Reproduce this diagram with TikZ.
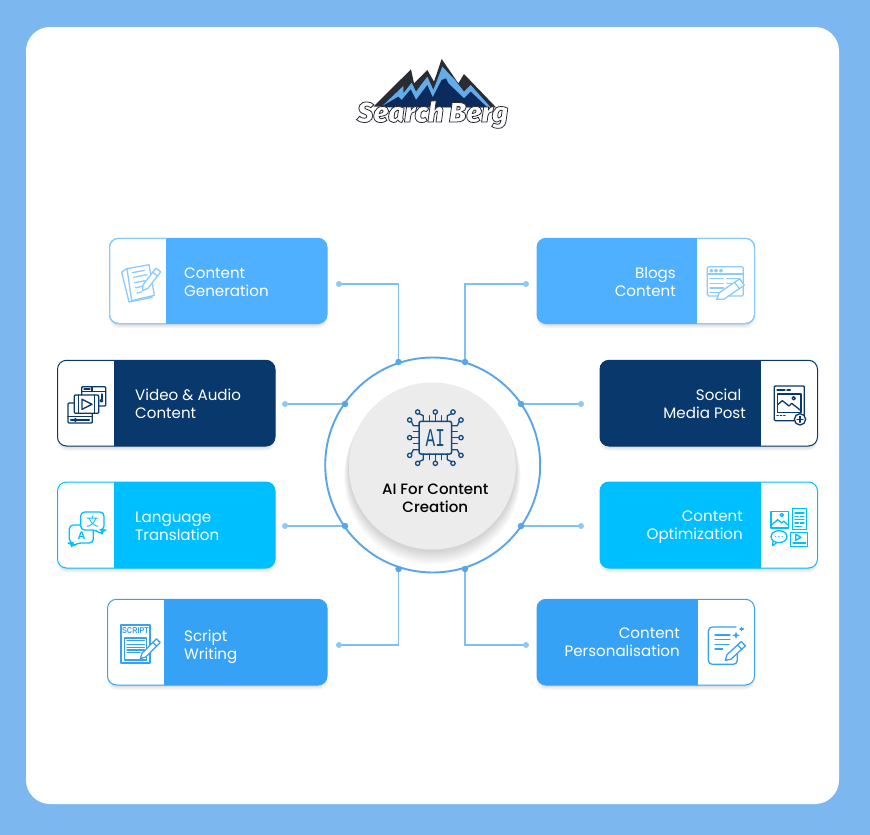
\documentclass[tikz,border=0pt]{standalone}
\usepackage{fontspec}
\usetikzlibrary{calc}
\setmainfont{Poppins}
\newfontfamily\popmed{Poppins}[UprightFont=* Medium]
\newfontfamily\logofont{Fira Sans}[UprightFont=* Black Italic]
\newfontfamily\cjkfont{Noto Sans CJK SC}
\newfontfamily\chipfont{Liberation Mono}
\newfontfamily\iconfont{Liberation Sans}
\definecolor{bgblue}{HTML}{7CB7EF}
\definecolor{cgen}{HTML}{4FB0FF}
\definecolor{cgenl}{HTML}{8CCBFF}
\definecolor{cnavy}{HTML}{08386C}
\definecolor{ccyan}{HTML}{00BFFF}
\definecolor{cblue}{HTML}{36A2F5}
\definecolor{cring}{HTML}{5AA5E6}
\definecolor{cline}{HTML}{80BFF3}
\definecolor{cdot}{HTML}{90C8F5}
\definecolor{cgrey}{HTML}{ECECEC}
\definecolor{cchip}{HTML}{0F4C86}
\definecolor{lgdark}{HTML}{2A2C33}
\definecolor{lgnavy}{HTML}{0C2A5C}
\definecolor{lgblue}{HTML}{62ACEA}
\tikzset{
  x=1pt,y=-1pt,
  cardnode/.style={draw,fill=white,rounded corners=9pt,inner sep=0pt,outer sep=0pt,line width=1pt},
  cardtext/.style={text=white,font=\fontsize{15.1}{18}\selectfont,inner sep=0pt},
  conn/.style={cline,line width=1.4pt},
  hubdot/.style={circle,fill=cring,inner sep=0pt,minimum size=6.5pt},
  enddot/.style={circle,fill=cdot,inner sep=0pt,minimum size=6pt},
  ic/.style={line width=1.3pt,line join=round,line cap=round},
}
% name,x1,y1,x2,y2,xa,xb,colour : panel spans xa..xb
\newcommand{\cardbox}[8]{%
  \foreach \g in {0,1,2,3}{
    \fill[black,opacity=.04,rounded corners=9pt] (#2+2-\g*.7,#3+3) rectangle (#4-2+\g*.7,#5+1+\g*1.2);
  }
  \pgfmathsetmacro{\cw}{#4-#2}\pgfmathsetmacro{\ch}{#5-#3}
  \node[cardnode,draw=#8,minimum width=\cw pt,minimum height=\ch pt] (#1) at ({(#2+#4)/2},{(#3+#5)/2}) {};
  \begin{scope}
    \clip[rounded corners=9pt] (#2,#3) rectangle (#4,#5);
    \fill[#8] (#6,#3-1) rectangle (#7,#5+1);
  \end{scope}
}
% tip, end, half width (in the 1/3-scaled units of the icon scopes)
\newcommand{\pencilicon}[3]{%
  \draw[ic,fill=white] #1 -- ($#1!.2!#2!#3!90:#2$) -- ($#2!#3!-90:#1$) -- ($#2!#3!90:#1$) -- ($#1!.2!#2!#3!-90:#2$) -- cycle;
  \draw[ic] ($#1!.8!#2!#3!90:#2$) -- ($#1!.8!#2!#3!-90:#2$);
}
\begin{document}
\begin{tikzpicture}
\useasboundingbox (0,0) rectangle (870,835);
\fill[bgblue] (0,0) rectangle (870,835);
\fill[white,rounded corners=24pt] (26,27) rectangle (839,804);

% ---------- logo
\begin{scope}[shift={(340,50)},scale=1/3]
  \fill[lgdark] (100,170) -- (213,58) -- (222,100) -- (262,60) -- (282,95) -- (305,27) -- (355,100) -- (372,72) -- (468,172) -- cycle;
  \fill[lgblue] (125,170) -- (190,108) -- (190,130) -- (215,98) -- (228,125) -- (262,80) -- (280,120) -- (307,50) -- (345,90) -- (372,125) -- (392,105) -- (452,172) -- cycle;
  \fill[lgnavy] (120,172) -- (175,140) -- (185,150) -- (212,118) -- (228,150) -- (262,105) -- (278,142) -- (305,90) -- (318,85) -- (325,100) -- (372,145) -- (392,125) -- (442,172) -- cycle;
\end{scope}
\node[inner sep=0pt,anchor=base west] (logo) at (357,122) {\logofont\fontsize{28}{30}\selectfont\special{pdf:code q 2 Tr 0.8 w 0.16 0.16 0.2 RG 1 1 1 rg}Search Berg\special{pdf:code Q}};

% ---------- connectors
\coordinate (e1) at (339,284); \coordinate (h1) at (398.5,362);
\coordinate (e2) at (526,284); \coordinate (h2) at (465,362);
\coordinate (e3) at (285,404); \coordinate (h3) at (345,404);
\coordinate (e4) at (581,404); \coordinate (h4) at (521,404);
\coordinate (e5) at (285,526); \coordinate (h5) at (345,526);
\coordinate (e6) at (581,526); \coordinate (h6) at (521,526);
\coordinate (e7) at (339,645); \coordinate (h7) at (398.5,569);
\coordinate (e8) at (526,645); \coordinate (h8) at (465,569);
\draw[conn] (e1) -| (h1);
\draw[conn] (e2) -| (h2);
\draw[conn] (e3) -- (h3);
\draw[conn] (e4) -- (h4);
\draw[conn] (e5) -- (h5);
\draw[conn] (e6) -- (h6);
\draw[conn] (e7) -| (h7);
\draw[conn] (e8) -| (h8);

% ---------- hub
\draw[cring,line width=1.9pt] (432.7,465) circle (107.5);
\foreach \i in {14,...,1}{
  \fill[black,opacity=.011] (432.3,{466+1.5+\i*.65}) circle ({83.5+\i*.35});
}
\node[circle,fill=cgrey,inner sep=0pt,minimum size=167pt] (hub) at (432.3,466) {};
\foreach \i in {1,...,8}{
  \node[hubdot] (hd\i) at (h\i) {};
  \node[enddot] (ed\i) at (e\i) {};
}
\node[inner sep=0pt,align=center,anchor=center,font=\popmed\fontsize{15}{18}\selectfont,text=black] (hubtext) at (435.3,498.3) {AI For Content\\Creation};

% chip icon
\begin{scope}[shift={(320,350)},scale=1/3,cchip]
  \begin{scope}[shift={(346,263)}]
  \foreach \r in {0,90,180,270}{
    \begin{scope}[rotate=\r]
      \draw[ic] (-36,-49) -- (-36,-66) -- (-49,-72);
      \draw[ic] (36,-49) -- (36,-66) -- (49,-72);
      \draw[ic] (0,-49) -- (0,-70);
      \draw[ic] (-18,-49) -- (-18,-66);
      \draw[ic] (18,-49) -- (18,-66);
      \draw[ic] (-53,-77) circle (6.5);
      \draw[ic] (53,-77) circle (6.5);
      \draw[ic] (0,-77) circle (6.5);
    \end{scope}
  }
  \draw[line width=1.5pt,rounded corners=2pt] (-49,-49) rectangle (49,49);
  \end{scope}
\end{scope}
\node[inner sep=0pt,text=cchip,font=\chipfont\fontsize{16}{16}\selectfont,yscale=1.6,transform shape] (chip) at (435.3,438) {AI};

% ---------- cards
\cardbox{gen}{109.5}{238.3}{327}{323.5}{166.3}{328}{cgen}
\draw[cgenl,line width=1pt,rounded corners=9pt] (166.3,238.3) -- (109.5,238.3) -- (109.5,323.5) -- (166.3,323.5);
\node[cardtext,anchor=west,align=left] (gent) at (184,282) {Content\\Generation};

\cardbox{vid}{57.5}{360.3}{275}{446}{114}{276}{cnavy}
\node[cardtext,anchor=west,align=left] (vidt) at (135,404) {Video \& Audio\\Content};

\cardbox{lan}{57.5}{482}{275}{568}{114}{276}{ccyan}
\node[cardtext,anchor=west,align=left] (lant) at (135,526) {Language\\Translation};

\cardbox{scr}{107.5}{599.3}{327}{685}{164}{328}{cblue}
\node[cardtext,anchor=west,align=left] (scrt) at (184,647) {Script\\Writing};

\cardbox{blo}{537}{238.3}{754.5}{323.5}{536}{697}{cgen}
\draw[cgenl,line width=1pt,rounded corners=9pt] (697,238.3) -- (754.5,238.3) -- (754.5,323.5) -- (697,323.5);
\node[cardtext,anchor=east,align=right] (blot) at (676,282) {Blogs\\Content};

\cardbox{soc}{600}{360.3}{817.5}{446}{599}{761}{cnavy}
\node[cardtext,anchor=east,align=right] (soct) at (746,404) {Social\hspace*{4.5pt}\\Media Post};

\cardbox{opt}{600}{482}{817.5}{568}{599}{761}{ccyan}
\node[cardtext,anchor=east,align=right] (optt) at (743,527) {Content\\Optimization};

\cardbox{per}{537}{599.3}{754.5}{685}{536}{698}{cblue}
\node[cardtext,anchor=east,align=right] (pert) at (680,642) {Content\\Personalisation};

% ---------- icons
% Content generation
\begin{scope}[shift={(115,258)},scale=1/3,cgenl,ic]
  \draw[fill=white] (20,42) -- (42,132) -- (112,118) -- (36,32) -- cycle;
  \draw[fill=white] (36,32) -- (102,20) -- (118,112) -- (50,128) -- cycle;
  \draw (52,44) -- (88,37); \draw (56,58) -- (96,50); \draw (59,74) -- (90,68); \draw (62,89) -- (82,85); \draw (66,105) -- (80,102);
  \pencilicon{(82,98)}{(130,36)}{9pt}
\end{scope}
% Video
\begin{scope}[shift={(62,380)},scale=1/3,cnavy,ic]
  \draw[fill=white,rounded corners=1pt] (59,20) rectangle (131,78);
  \draw (59,35) -- (131,35); \draw (90,20) -- (90,35); \draw (66,27) -- (84,27);
  \draw (120,42) -- (120,58); \draw (118,62) circle (4);
  \draw[fill=white,rounded corners=1pt] (18,69) rectangle (91,129);
  \draw (18,110) -- (91,110); \draw (26,120) -- (82,120); \draw[fill=white] (40,120) circle (4);
  \draw[fill=white,rounded corners=1pt] (37,45) rectangle (110,100);
  \draw (50,45) -- (50,100); \draw (98,45) -- (98,100);
  \draw[line width=1.4pt] (60,58) -- (60,88) -- (90,73) -- cycle;
\end{scope}
% Language
\begin{scope}[shift={(62,503)},scale=1/3,ccyan,ic]
  \draw[fill=white,rounded corners=4pt] (22,66) -- (94,66) -- (94,120) -- (45,120) -- (30,132) -- (30,120) -- (22,120) -- cycle;
  \draw[fill=white,rounded corners=4pt] (56,27) -- (126,27) -- (126,81) -- (120,81) -- (120,96) -- (103,81) -- (56,81) -- cycle;
\end{scope}
\node[inner sep=0pt,text=ccyan,font=\cjkfont\fontsize{12.5}{13}\selectfont] (wen) at (92.5,521.5) {文};
\node[inner sep=0pt,text=ccyan,font=\iconfont\fontsize{11}{11}\selectfont\bfseries] (aa) at (81.5,535.5) {A};
% Script
\begin{scope}[shift={(115,620)},scale=1/3,cblue,ic]
  \draw[line width=1.3pt] (18,15) rectangle (105,129);
  \draw (29,54) rectangle (95,120);
  \draw (36,62) -- (88,62); \draw (36,74) -- (88,74); \draw (36,82) -- (88,82); \draw (36,90) -- (88,90); \draw (36,98) -- (75,98);
  \pencilicon{(76,116)}{(130,62)}{8pt}
\end{scope}
\node[inner sep=0pt,text=cblue,font=\iconfont\fontsize{8.6}{9}\selectfont\bfseries,xscale=.85,transform shape] (scriptword) at (135.5,631) {SCRIPT};
% Blogs
\begin{scope}[shift={(530,230)},scale=1/3,cgenl,ic]
  \draw[rounded corners=1.5pt] (532,110) rectangle (640,198);
  \draw (532,132) -- (640,132);
  \foreach \x in {544,558,573}{\draw (\x,122) circle (4);}
  \foreach \y in {146,160,174,188}{\draw (540,\y) -- (580,\y);}
  \draw (590,146) -- (630,146); \draw (590,160) -- (610,160);
  \pencilicon{(560,208)}{(636,156)}{12pt}
\end{scope}
% Social
\begin{scope}[shift={(765,380)},scale=1/3,cnavy,ic]
  \draw[rounded corners=1pt] (28,18) rectangle (118,122);
  \draw (36,30) -- (60,30); \draw (66,30) -- (76,30);
  \draw (38,42) rectangle (108,98);
  \draw (38,74) -- (52,62) -- (72,78) -- (80,70) -- (108,92);
  \draw (86,55) circle (5);
  \draw (36,106) -- (40,106); \draw (46,106) -- (50,106); \draw (56,106) -- (60,106);
  \draw[fill=white,line width=1.3pt] (105,118) circle (17);
  \draw (105,109) -- (105,127); \draw (96,118) -- (114,118);
\end{scope}
% Optimization
\begin{scope}[shift={(765,503)},scale=1/3,ccyan,ic]
  \draw (18,25) rectangle (70,75);
  \draw (22,64) -- (38,50) -- (50,60) -- (56,54) -- (68,66);
  \draw (50,36) circle (5);
  \draw (82,17) rectangle (125,80);
  \draw (90,30) -- (117,30); \draw (90,40) -- (100,40); \draw (106,40) -- (117,40); \draw (90,50) -- (117,50); \draw (90,60) -- (100,60); \draw (106,60) -- (117,60); \draw (90,70) -- (110,70);
  \draw (42,101) ellipse (24 and 18);
  \draw (24,113) -- (23,128) -- (36,118);
  \foreach \x in {32,42,52}{\fill (\x,101) circle (2.2);}
  \draw (77,88) rectangle (128,130);
  \draw (92,94) -- (92,112) -- (108,103) -- cycle;
  \draw (84,120) -- (122,120);
\end{scope}
% Personalisation
\begin{scope}[shift={(530,475)},scale=1/3,cblue,ic]
  \draw[rounded corners=4pt,line width=1.3pt] (622,510) -- (622,568) -- (535,568) -- (535,456) -- (618,456);
  \draw (555,480) -- (600,480); \draw (555,494) -- (600,494); \draw (555,508) -- (597,508); \draw (555,522) -- (578,522);
  \fill (618,470) -- (621,478) -- (629,481) -- (621,484) -- (618,492) -- (615,484) -- (607,481) -- (615,478) -- cycle;
  \draw (635,457) -- (635,467); \draw (630,462) -- (640,462);
  \pencilicon{(586,556)}{(640,506)}{9pt}
\end{scope}
\end{tikzpicture}
\end{document}
